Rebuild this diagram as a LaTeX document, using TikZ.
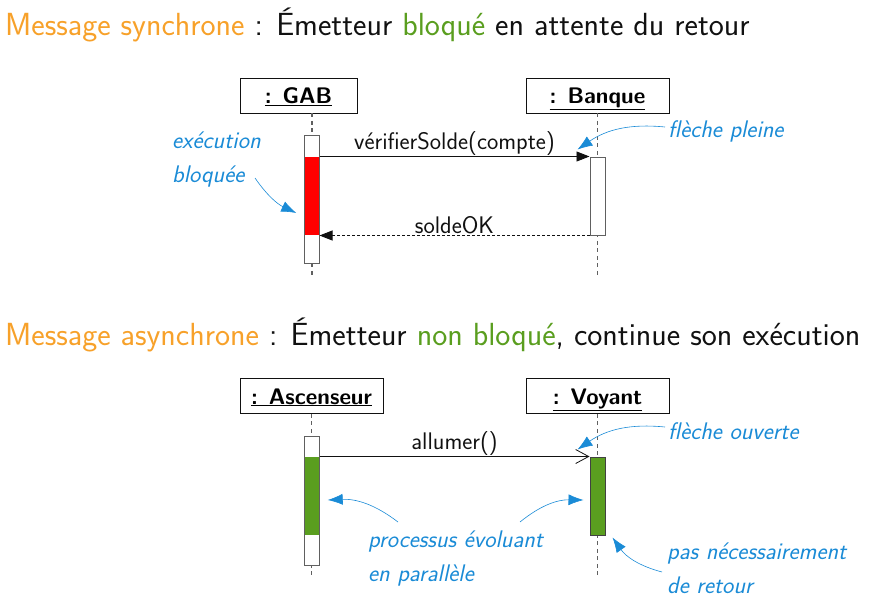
\documentclass[tikz,border=0pt]{standalone}
\usepackage{xcolor}
\usepackage{tikz}
\usetikzlibrary{arrows.meta,positioning,calc}
\renewcommand{\familydefault}{\sfdefault}
\definecolor{cOrange}{HTML}{F7A12A}
\definecolor{cGreen}{HTML}{5A9E1F}
\definecolor{cBlue}{HTML}{1A8BD6}
\definecolor{cRed}{HTML}{FF0000}
\definecolor{cInk}{HTML}{111111}
\definecolor{cGray}{HTML}{606060}
\tikzset{
  obj/.style={draw=cInk,fill=white,line width=0.9pt,minimum width=#1,minimum height=35pt,inner sep=0pt,text height=20pt,text depth=4pt,font=\fontsize{22.5}{24}\selectfont\bfseries},
  life/.style={dash pattern=on 4pt off 3.5pt,cGray,line width=1.1pt},
  bar/.style={draw=cGray,fill=white,line width=1pt,minimum width=15pt,minimum height=#1,inner sep=0pt},
  busy/.style={fill=#1,minimum width=14pt,minimum height=78pt,inner sep=0pt},
  msg/.style={-{Triangle[length=13pt,width=10pt]},line width=0.9pt,cInk},
  ret/.style={msg,densely dashed},
  amsg/.style={-{Straight Barb[length=13pt,width=14pt,line width=0.8pt]},line width=0.9pt,cInk},
  mlbl/.style={font=\fontsize{24}{26}\selectfont,text=cInk,inner sep=1pt},
  title/.style={anchor=west,font=\fontsize{32}{36}\selectfont,text=cInk,inner sep=0pt},
  note/.style={text=cBlue,font=\fontsize{24}{34}\selectfont\itshape,align=left,inner sep=0pt},
  pointer/.style={-{Latex[length=15pt,width=11pt]},cBlue,line width=0.6pt},
}

\begin{document}
\begin{tikzpicture}[x=1pt,y=-1pt]
  \useasboundingbox (0,0) rectangle (882,597);
  % message synchrone
  \node[title] (t1) at (5,25) {\textcolor{cOrange}{Message synchrone} : Émetteur \textcolor{cGreen}{bloqué} en attente du retour};
  \node[obj=117pt] (gab) at (298.5,95.5) {\underline{: GAB}};
  \node[obj=143pt] (bq) at (597.5,95.5) {\underline{: Banque}};
  \coordinate (gabEnd) at (312,278);
  \coordinate (bqEnd) at (597.5,278);
  \draw[life] (gab.south -| gabEnd) -- (gabEnd);
  \draw[life] (bq.south) -- (bqEnd);
  \node[bar=128pt] (gabBar) at (311.5,199) {};
  \node[busy=cRed] (gabBusy) at (311.5,196) {};
  \node[bar=78pt] (bqBar) at (597.5,196) {};
  \draw[msg] (gabBar.east |- bqBar.north) -- node[mlbl,above] (m1) {vérifierSolde(compte)} (bqBar.north west);
  \draw[ret] (bqBar.south west) -- node[mlbl,above] (m2) {soldeOK} (gabBar.east |- bqBar.south);
  \node[note,anchor=north west] (nBlk) at (172,132) {exécution\\bloquée};
  \node[note,anchor=west] (nFull) at (668,131) {flèche pleine};
  \draw[pointer] ([xshift=83pt,yshift=-46pt]nBlk.north west) to[bend right=15] ([xshift=-8pt,yshift=-17pt]gabBusy.west);
  \draw[pointer] ([xshift=-3pt,yshift=4pt]nFull.west) to[bend right=20] ([xshift=-12pt,yshift=7pt]bqBar.north west);

  % message asynchrone
  \node[title] (t2) at (5,335) {\textcolor{cOrange}{Message asynchrone} : Émetteur \textcolor{cGreen}{non bloqué}, continue son exécution};
  \node[obj=143pt] (asc) at (311.5,396) {\underline{: Ascenseur}};
  \node[obj=143pt] (voy) at (597.5,396) {\underline{: Voyant}};
  \coordinate (ascEnd) at (311.5,578);
  \coordinate (voyEnd) at (597.5,578);
  \draw[life] (asc.south) -- (ascEnd);
  \draw[life] (voy.south) -- (voyEnd);
  \node[bar=129pt] (ascBar) at (311.5,500.5) {};
  \node[busy=cGreen] (ascBusy) at (311.5,496) {};
  \node[bar=78pt,fill=cGreen,draw=cInk!80] (voyBar) at (597.5,496) {};
  \draw[amsg] (ascBar.east |- voyBar.north) -- node[mlbl,above] (m3) {allumer()} (voyBar.north west);
  \node[note,anchor=west] (nOpen) at (668,431) {flèche ouverte};
  \node[note,anchor=north west] (nPar) at (368,531) {processus évoluant\\en parallèle};
  \node[note,anchor=north west] (nRet) at (667,543) {pas nécessairement\\de retour};
  \draw[pointer] ([xshift=-3pt,yshift=4pt]nOpen.west) to[bend right=20] ([xshift=-12pt,yshift=7pt]voyBar.north west);
  \draw[pointer] ([xshift=30pt,yshift=9pt]nPar.north west) to[bend right=20] ([xshift=9pt,yshift=-4pt]ascBusy.east);
  \draw[pointer] ([xshift=152pt,yshift=9pt]nPar.north west) to[bend left=20] ([xshift=-6pt,yshift=-4pt]voyBar.west);
  \draw[pointer] ([xshift=-5pt,yshift=-29pt]nRet.north west) to[bend left=20] ([xshift=7pt,yshift=-2pt]voyBar.south east);
\end{tikzpicture}
\end{document}
